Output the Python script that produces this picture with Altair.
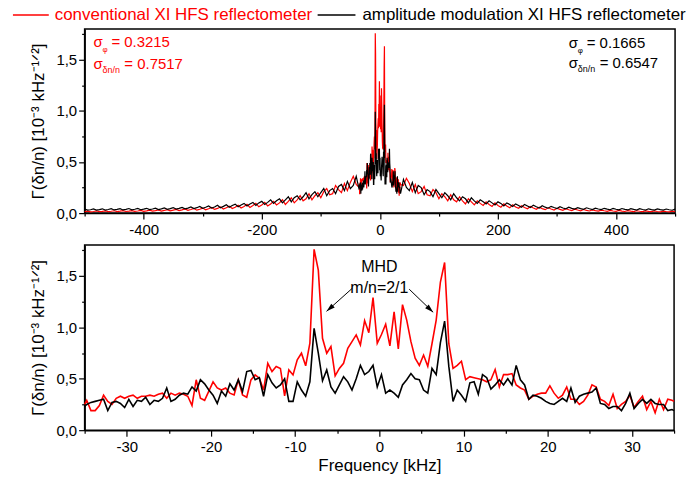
import altair as alt
import pandas as pd

FONT = "Liberation Sans"
RED = "#ff0000"
BLACK = "#000000"
Y_TITLE = "Γ(δn/n) [10⁻³ kHz⁻¹ᐟ²]"

# ---------------- zoomed spectra (bottom panel, also centre of top panel) -------------
zoom_freq_neg = [-35.0] + [-34.75 + 0.5 * k for k in range(70)]
zoom_freq_pos = [0.25 + 0.5 * k for k in range(70)] + [35.0]

red_zoom_neg = [
    0.25,
    0.29, 0.19, 0.19, 0.24, 0.34, 0.28, 0.25, 0.31, 0.33, 0.31,
    0.33, 0.34, 0.31, 0.33, 0.33, 0.34, 0.33, 0.35, 0.36, 0.31,
    0.36, 0.34, 0.36, 0.35, 0.33, 0.24, 0.49, 0.31, 0.29, 0.38,
    0.47, 0.41, 0.39, 0.41, 0.36,
    0.343, 0.489, 0.343, 0.320, 0.489,
    0.537, 0.505, 0.39, 0.65, 0.57, 0.618, 0.60, 0.333, 0.586, 0.537,
    0.683, 0.748, 0.625, 0.845, 1.757, 1.556, 0.893, 0.748, 0.813, 0.528,
    0.60, 0.65, 0.796, 0.861, 0.926, 0.829, 1.065, 0.948, 1.288, 0.845,
]
red_zoom_pos = [
    0.93, 1.03, 0.82, 1.15, 0.79, 1.22, 1.07, 0.86, 0.70, 0.63,
    0.73, 0.62, 0.84, 1.07, 1.44, 1.63, 0.84, 0.60, 0.63, 0.67,
    0.49, 0.52, 0.51, 0.50, 0.49, 0.47, 0.49, 0.59, 0.42, 0.54,
    0.54, 0.55, 0.44, 0.41, 0.39,
    0.30, 0.33, 0.35, 0.36, 0.36,
    0.43, 0.36, 0.31, 0.34, 0.42, 0.30, 0.30, 0.25, 0.28, 0.34,
    0.44, 0.42, 0.30, 0.28, 0.24, 0.35, 0.21, 0.25, 0.28, 0.34,
    0.22, 0.28, 0.33, 0.20, 0.28, 0.17, 0.30, 0.20, 0.30, 0.29,
    0.28,
]
black_zoom_neg = [
    0.23,
    0.25, 0.27, 0.28, 0.29, 0.30, 0.19, 0.27, 0.28, 0.26, 0.22,
    0.30, 0.23, 0.29, 0.28, 0.32, 0.25, 0.29, 0.28, 0.31, 0.41,
    0.28, 0.30, 0.34, 0.36, 0.35, 0.42, 0.38, 0.49, 0.45, 0.39,
    0.34, 0.26, 0.38, 0.33, 0.45,
    0.39, 0.49, 0.375, 0.57, 0.58,
    0.49, 0.51, 0.33, 0.54, 0.46, 0.41, 0.44, 0.50, 0.28, 0.28,
    0.47, 0.39, 0.33, 0.47, 0.99, 0.75, 0.48, 0.585, 0.42, 0.36,
    0.44, 0.52, 0.47, 0.39, 0.50, 0.63, 0.54, 0.57, 0.63, 0.42,
]
black_zoom_pos = [
    0.54, 0.36, 0.39, 0.36, 0.32, 0.44, 0.49, 0.55, 0.50, 0.49,
    0.39, 0.36, 0.60, 0.54, 0.85, 1.06, 0.62, 0.28, 0.39, 0.34,
    0.28, 0.46, 0.47, 0.35, 0.54, 0.51, 0.40, 0.44, 0.49, 0.44,
    0.50, 0.44, 0.63, 0.49, 0.44,
    0.30, 0.34, 0.33, 0.31, 0.28,
    0.26, 0.25, 0.28, 0.31, 0.28, 0.41, 0.27, 0.33, 0.35, 0.36,
    0.37, 0.41, 0.26, 0.25, 0.21, 0.23, 0.23, 0.19, 0.26, 0.36,
    0.21, 0.26, 0.30, 0.26, 0.30, 0.26, 0.25, 0.25, 0.19, 0.20,
    0.19,
]

# ---------------- wide spectra outside +-35 kHz (top panel), 5 kHz steps ---------------
outer_freq_pos = list(range(40, 505, 5))          # 40 ... 500
outer_freq_neg = [-f for f in outer_freq_pos]     # -40 ... -500

red_outer_pos = [
    0.27, 0.34, 0.29, 0.21, 0.28, 0.19, 0.21, 0.26, 0.18,
    0.17, 0.23, 0.20, 0.14, 0.19, 0.16, 0.12, 0.18, 0.13, 0.11,
    0.16, 0.12, 0.09, 0.14, 0.11, 0.08, 0.12, 0.095, 0.075, 0.11,
    0.085, 0.065, 0.10, 0.075, 0.058, 0.09, 0.07, 0.052, 0.082, 0.06,
    0.048, 0.072, 0.055, 0.042, 0.065, 0.05, 0.038, 0.058, 0.044, 0.034,
    0.052, 0.04, 0.03, 0.047, 0.036, 0.027, 0.043, 0.033, 0.025, 0.039,
    0.03, 0.023, 0.035, 0.027, 0.021, 0.032, 0.025, 0.019, 0.029, 0.023,
    0.018, 0.027, 0.021, 0.017, 0.026, 0.02, 0.016, 0.024, 0.019, 0.015,
    0.023, 0.018, 0.014, 0.022, 0.017, 0.014, 0.021, 0.016, 0.013, 0.02,
    0.016, 0.013, 0.019, 0.015,
]
black_outer_pos = [
    0.33, 0.25, 0.22, 0.30, 0.20, 0.27, 0.25, 0.18, 0.23,
    0.21, 0.16, 0.23, 0.19, 0.15, 0.20, 0.17, 0.13, 0.19, 0.15,
    0.12, 0.16, 0.14, 0.10, 0.15, 0.12, 0.095, 0.13, 0.11, 0.09,
    0.12, 0.10, 0.08, 0.11, 0.095, 0.07, 0.10, 0.085, 0.065, 0.09,
    0.075, 0.058, 0.085, 0.07, 0.055, 0.078, 0.062, 0.05, 0.072, 0.058,
    0.048, 0.066, 0.055, 0.045, 0.062, 0.05, 0.042, 0.058, 0.047, 0.04,
    0.054, 0.044, 0.037, 0.052, 0.043, 0.035, 0.049, 0.04, 0.034, 0.047,
    0.039, 0.033, 0.046, 0.038, 0.032, 0.045, 0.037, 0.031, 0.044, 0.036,
    0.03, 0.043, 0.035, 0.03, 0.042, 0.034, 0.029, 0.041, 0.034, 0.029,
    0.04, 0.033, 0.028, 0.039,
]
red_outer_neg = [
    0.28, 0.36, 0.30, 0.22, 0.29, 0.20, 0.23, 0.27, 0.19,
    0.18, 0.24, 0.21, 0.15, 0.20, 0.17, 0.13, 0.19, 0.14, 0.12,
    0.17, 0.13, 0.10, 0.15, 0.115, 0.085, 0.13, 0.10, 0.08, 0.115,
    0.09, 0.07, 0.105, 0.08, 0.062, 0.095, 0.074, 0.056, 0.086, 0.064,
    0.05, 0.076, 0.058, 0.045, 0.068, 0.052, 0.04, 0.061, 0.046, 0.036,
    0.055, 0.042, 0.032, 0.049, 0.038, 0.029, 0.045, 0.035, 0.027, 0.041,
    0.032, 0.025, 0.037, 0.029, 0.022, 0.034, 0.026, 0.02, 0.031, 0.024,
    0.019, 0.029, 0.022, 0.018, 0.027, 0.021, 0.017, 0.025, 0.02, 0.016,
    0.024, 0.019, 0.015, 0.023, 0.018, 0.014, 0.022, 0.017, 0.014, 0.021,
    0.016, 0.013, 0.02, 0.015,
]
black_outer_neg = [
    0.36, 0.27, 0.24, 0.31, 0.22, 0.28, 0.26, 0.19, 0.24,
    0.22, 0.17, 0.24, 0.20, 0.16, 0.21, 0.18, 0.14, 0.20, 0.16,
    0.13, 0.17, 0.15, 0.11, 0.16, 0.13, 0.10, 0.14, 0.12, 0.095,
    0.13, 0.105, 0.085, 0.115, 0.10, 0.075, 0.105, 0.09, 0.07, 0.095,
    0.08, 0.062, 0.088, 0.074, 0.058, 0.082, 0.066, 0.053, 0.076, 0.06,
    0.05, 0.07, 0.057, 0.047, 0.065, 0.053, 0.044, 0.06, 0.049, 0.042,
    0.056, 0.046, 0.039, 0.054, 0.044, 0.037, 0.051, 0.042, 0.035, 0.049,
    0.04, 0.034, 0.047, 0.039, 0.033, 0.046, 0.038, 0.032, 0.045, 0.037,
    0.031, 0.044, 0.036, 0.031, 0.043, 0.035, 0.03, 0.042, 0.034, 0.03,
    0.041, 0.033, 0.029, 0.04,
]

# ---------------- annotation texts ----------------
legend_labels = ["conventional XI HFS reflectometer", "amplitude modulation XI HFS reflectometer"]
sigma_phi = ["= 0.3215", "= 0.1665"]
sigma_dn = ["= 0.7517", "= 0.6547"]
sigma_anchor_f = [-485.0, 320.0]
mhd_labels = ["MHD", "m/n=2/1"]
mhd_v = [1.583, 1.379]
arrow_start_f = [-3.2, 3.55]
arrow_start_v = [1.38, 1.37]
arrow_end_f = [-6.27, 6.39]
arrow_end_v = [1.155, 1.146]
arrow_angle = [228.5, 133.8]

# ---------------- data frames ----------------
zoom_freq = zoom_freq_neg + zoom_freq_pos
red_zoom = red_zoom_neg + red_zoom_pos
black_zoom = black_zoom_neg + black_zoom_pos

top_freq = outer_freq_neg + zoom_freq + outer_freq_pos
red_top = red_outer_neg + red_zoom + red_outer_pos
black_top = black_outer_neg + black_zoom + black_outer_pos

df_top_red = pd.DataFrame({"f": top_freq, "v": red_top})
df_top_black = pd.DataFrame({"f": top_freq, "v": black_top})
df_bot_red = pd.DataFrame({"f": zoom_freq, "v": red_zoom})
df_bot_black = pd.DataFrame({"f": zoom_freq, "v": black_zoom})

df_ann1 = pd.DataFrame({"f": sigma_anchor_f, "v": [1.675, 1.66], "c": [RED, BLACK],
                        "sig": ["σ", "σ"], "sub": ["φ", "φ"], "val": sigma_phi})
df_ann2 = pd.DataFrame({"f": sigma_anchor_f, "v": [1.455, 1.465], "c": [RED, BLACK],
                        "sig": ["σ", "σ"], "sub": ["δn/n", "δn/n"], "val": sigma_dn})
df_mhd = pd.DataFrame({"f": [0.0, 0.0], "v": mhd_v, "t": mhd_labels})
df_arrow = pd.DataFrame({"xs": arrow_start_f, "ys": arrow_start_v,
                         "xe": arrow_end_f, "ye": arrow_end_v, "ang": arrow_angle})
one = pd.DataFrame({"a": [0]})

# ---------------- axes ----------------
Y_LABEL = "(datum.value * 4) % 2 == 0 ? replace(format(datum.value, '.1f'), '.', ',') : ''"
y_vals = [0, 0.25, 0.5, 0.75, 1.0, 1.25, 1.5, 1.75]


def y_axis():
    return alt.Axis(values=y_vals, labelExpr=Y_LABEL, title=Y_TITLE, titlePadding=8,
                    labelPadding=2, labelOverlap=False,
                    tickSize={"condition": {"test": "(datum.value * 4) % 2 != 0", "value": 3}, "value": 6})


top_x_axis = alt.Axis(values=list(range(-500, 501, 100)), title=None, labelPadding=3,
                      labelOverlap=False, labelFlush=False,
                      labelExpr="datum.value % 200 == 0 && abs(datum.value) < 500 ? toString(datum.value) : ''",
                      tickSize={"condition": {"test": "datum.value % 200 != 0", "value": 3}, "value": 6})
bot_x_axis = alt.Axis(values=list(range(-35, 36, 5)), title="Frequency [kHz]", labelPadding=3,
                      titlePadding=3, labelOverlap=False, labelFlush=False,
                      labelExpr="datum.value % 10 == 0 ? toString(datum.value) : ''",
                      tickSize={"condition": {"test": "datum.value % 10 != 0", "value": 3}, "value": 6})

top_xs = alt.Scale(domain=[-500, 500], nice=False, zero=False)
bot_xs = alt.Scale(domain=[-35, 35], nice=False, zero=False)
ys = alt.Scale(domain=[0, 1.8], nice=False, zero=False)


def tx(field):
    return alt.X(field, type="quantitative", scale=top_xs, axis=top_x_axis)


def bx(field):
    return alt.X(field, type="quantitative", scale=bot_xs, axis=bot_x_axis)


def yy(field):
    return alt.Y(field, type="quantitative", scale=ys, axis=y_axis())


# ---------------- top panel ----------------
top_red = alt.Chart(df_top_red).mark_line(color=RED, strokeWidth=1.2).encode(x=tx("f"), y=yy("v"))
top_black = alt.Chart(df_top_black).mark_line(color=BLACK, strokeWidth=1.2).encode(x=tx("f"), y=yy("v"))


def sigma_layers(df, sub_dx, sub_dy, sub_size, val_dx):
    base = alt.Chart(df)
    enc = dict(x=tx("f"), y=yy("v"), color=alt.Color("c:N", scale=None))
    s = base.mark_text(align="left", baseline="middle", fontSize=15).encode(text="sig:N", **enc)
    sb = base.mark_text(align="left", baseline="middle", fontSize=sub_size, dx=sub_dx, dy=sub_dy).encode(text="sub:N", **enc)
    v = base.mark_text(align="left", baseline="middle", fontSize=15, dx=val_dx).encode(text="val:N", **enc)
    return [s, sb, v]


ann_layers = sigma_layers(df_ann1, 9, 8, 8, 18) + sigma_layers(df_ann2, 9, 6, 9, 31)

leg_r_line = alt.Chart(one).mark_rule(color=RED, strokeWidth=1.5).encode(
    x=alt.value(-72), x2=alt.value(-36), y=alt.value(-14))
leg_r_text = alt.Chart(one).mark_text(align="left", baseline="middle", fontSize=17, color=RED).encode(
    x=alt.value(-30), y=alt.value(-14), text=alt.value(legend_labels[0]))
leg_b_line = alt.Chart(one).mark_rule(color=BLACK, strokeWidth=1.5).encode(
    x=alt.value(234), x2=alt.value(272), y=alt.value(-14))
leg_b_text = alt.Chart(one).mark_text(align="left", baseline="middle", fontSize=17, color=BLACK).encode(
    x=alt.value(279), y=alt.value(-14), text=alt.value(legend_labels[1]))

top = alt.layer(top_red, top_black, *ann_layers, leg_r_line, leg_r_text, leg_b_line, leg_b_text).properties(
    width=593, height=185)

# ---------------- bottom panel ----------------
bot_red = alt.Chart(df_bot_red).mark_line(color=RED, strokeWidth=1.6).encode(x=bx("f"), y=yy("v"))
bot_black = alt.Chart(df_bot_black).mark_line(color=BLACK, strokeWidth=1.6).encode(x=bx("f"), y=yy("v"))
mhd = alt.Chart(df_mhd).mark_text(align="center", baseline="middle", fontSize=16, color=BLACK).encode(
    x=bx("f"), y=yy("v"), text="t:N")
arrows = alt.Chart(df_arrow).mark_rule(color=BLACK, strokeWidth=1).encode(
    x=bx("xs"), y=yy("ys"), x2="xe", y2="ye")
heads = alt.Chart(df_arrow).mark_point(shape="M0,0 L0.3,1 L-0.3,1 Z", filled=True, size=300,
                                       color=BLACK, opacity=1).encode(
    x=bx("xe"), y=yy("ye"), angle=alt.Angle("ang:Q", scale=None))

bottom = alt.layer(bot_red, bot_black, mhd, arrows, heads).properties(width=592, height=186)

chart = alt.vconcat(top, bottom, spacing=4).properties(
    padding={"left": 11, "top": 4, "right": 5, "bottom": 5},
    background="white",
).configure(font=FONT).configure_view(stroke=BLACK, strokeWidth=1.5).configure_axis(
    labelFont=FONT, titleFont=FONT, labelFontSize=15, titleFontSize=17, titleFontWeight="normal",
    labelColor=BLACK, titleColor=BLACK, tickColor=BLACK, tickWidth=1.2,
    domainColor=BLACK, domainWidth=1.5, grid=False,
)

chart.save("out.html", embed_options={"renderer": "svg", "actions": False})
